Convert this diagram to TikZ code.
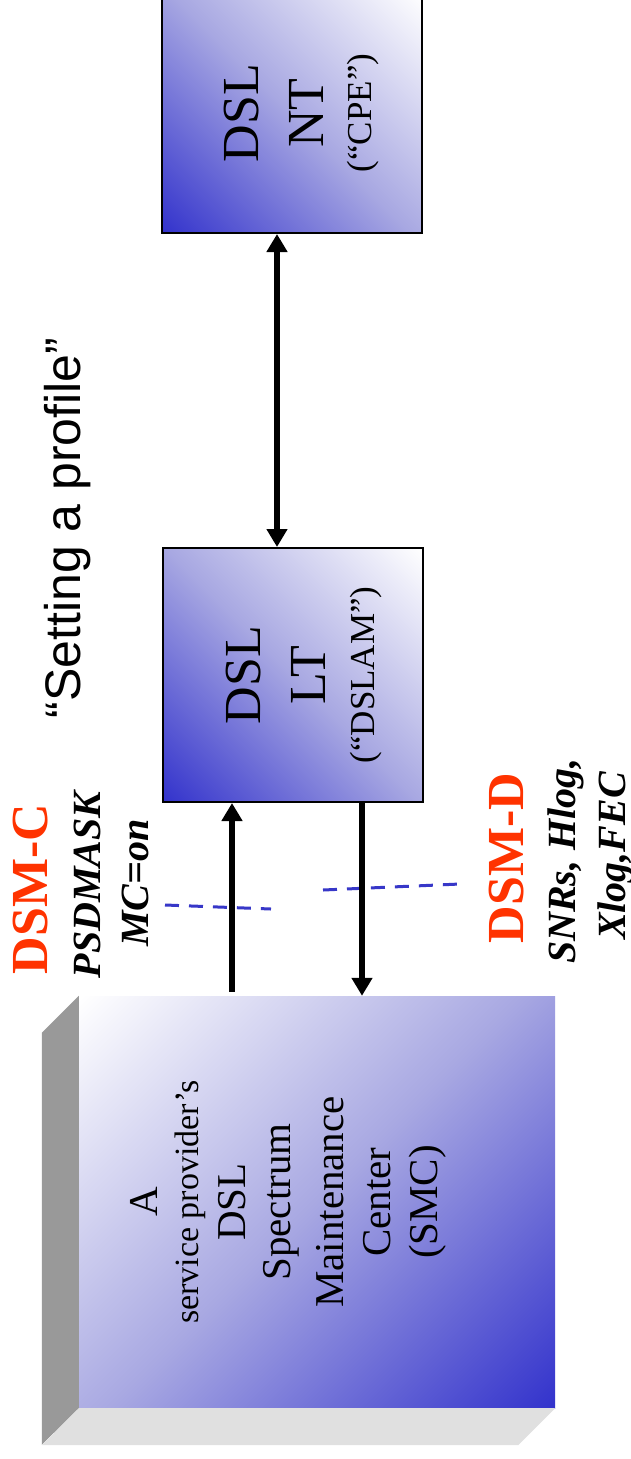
\documentclass[tikz,border=0pt]{standalone}
\usepackage{fontspec}
\setmainfont{Liberation Serif}
\newfontfamily\sansf{Liberation Sans}
\usetikzlibrary{arrows.meta}
\definecolor{dsmblue}{RGB}{51,51,204}
\definecolor{dsmmid}{RGB}{168,168,226}
\definecolor{dsmred}{RGB}{255,51,0}
\definecolor{dashblue}{RGB}{55,55,200}
\definecolor{sidegray}{RGB}{153,153,153}
\definecolor{floorgray}{RGB}{224,224,224}
\pgfdeclareverticalshading{dsmdiag}{100bp}{color(0bp)=(dsmblue); color(14.64bp)=(dsmblue); color(50bp)=(dsmmid); color(85.36bp)=(white); color(100bp)=(white)}
\tikzset{
  dslbox/.style={draw=black, line width=2pt, shading=dsmdiag, shading angle=-45,
    minimum width=260pt, inner sep=0pt},
  smcface/.style={shading=dsmdiag, shading angle=45, minimum width=476pt,
    minimum height=412pt, inner sep=0pt},
  vtext/.style={rotate=90, anchor=base, inner sep=0pt},
  big/.style={font=\fontsize{52}{60}\selectfont},
  mid/.style={font=\fontsize{41}{48}\selectfont},
  small/.style={font=\fontsize{35}{40}\selectfont},
  svc/.style={font=\fontsize{34}{40}\selectfont},
  dsmlabel/.style={font=\fontsize{52}{60}\selectfont\bfseries, text=dsmred},
  param/.style={font=\fontsize{40}{46}\selectfont\bfseries\itshape},
  title/.style={font=\fontsize{50}{58}\selectfont\sansf},
  arr/.style={line width=6pt, -{Triangle[width=20pt,length=18pt]}},
  biarr/.style={line width=6pt, {Triangle[width=20pt,length=18pt]}-{Triangle[width=20pt,length=18pt]}},
  dsh/.style={draw=dashblue, line width=3pt, dash pattern=on 14pt off 10pt}
}
\begin{document}
\begin{tikzpicture}[x=1pt, y=-1pt]
\clip (0,0) rectangle (631,1459);
\fill[white] (0,0) rectangle (631,1459);

% boxes
\node[dslbox, minimum height=240pt] (nt) at (292,113) {};
\node[dslbox, minimum height=254pt] (lt) at (293,675) {};
\node[smcface] (smc) at (317,1202) {};
\fill[sidegray] (smc.north west) -- ++(-37,37) -- ++(0,412) -- (smc.south west) -- cycle;
\fill[floorgray] (smc.south west) -- (smc.south east) -- ++(-37,37) -- ++(-476,0) -- cycle;

% NT text
\node[vtext, big] (ntdsl) at (258,113) {DSL};
\node[vtext, big] (ntnt) at (323,113) {NT};
\node[vtext, small] (ntcpe) at (371,113) {(“CPE”)};

% LT text
\node[vtext, big] (ltdsl) at (260,675) {DSL};
\node[vtext, big] (ltlt) at (325,675) {LT};
\node[vtext, small] (ltdslam) at (374,675) {(“DSLAM”)};

% SMC text
\node[vtext, mid] (smca) at (157,1202) {A};
\node[vtext, svc] (smcsvc) at (198,1202) {service provider’s};
\node[vtext, mid] (smcdsl) at (245,1202) {DSL};
\node[vtext, mid] (smcspec) at (290,1202) {Spectrum};
\node[vtext, mid] (smcmaint) at (343,1202) {Maintenance};
\node[vtext, mid] (smccent) at (390,1202) {Center};
\node[vtext, mid] (smcsmc) at (437,1202) {(SMC)};

% title
\node[vtext, title] (ttl) at (80,528) {“Setting a profile”};

% DSM-C labels
\node[vtext, dsmlabel] (dsmc) at (47,889) {DSM-C};
\node[vtext, param] (psd) at (100,885) {PSDMASK};
\node[vtext, param] (mc) at (148,883) {MC=on};

% DSM-D labels
\node[vtext, dsmlabel] (dsmd) at (523,858) {DSM-D};
\node[vtext, param] (snr) at (575,861) {SNRs, Hlog,};
\node[vtext, param] (xlog) at (625,856) {Xlog,FEC};

% dashed separators
\coordinate (dcl1) at (165,905);
\coordinate (dcl2) at (271,909);
\coordinate (dcr1) at (323,890);
\coordinate (dcr2) at (460,884);
\draw[dsh] (dcl1) -- (dcl2);
\draw[dsh] (dcr1) -- (dcr2);

% connectors
\coordinate (axa) at (277,0);
\coordinate (axb) at (232,0);
\coordinate (axc) at (362,0);
\draw[biarr] (axa |- nt.south) -- (axa |- lt.north);
\draw[arr] ([yshift=4pt]axb |- smc.north) -- (axb |- lt.south);
\draw[arr] (axc |- lt.south) -- (axc |- smc.north);
\end{tikzpicture}
\end{document}
